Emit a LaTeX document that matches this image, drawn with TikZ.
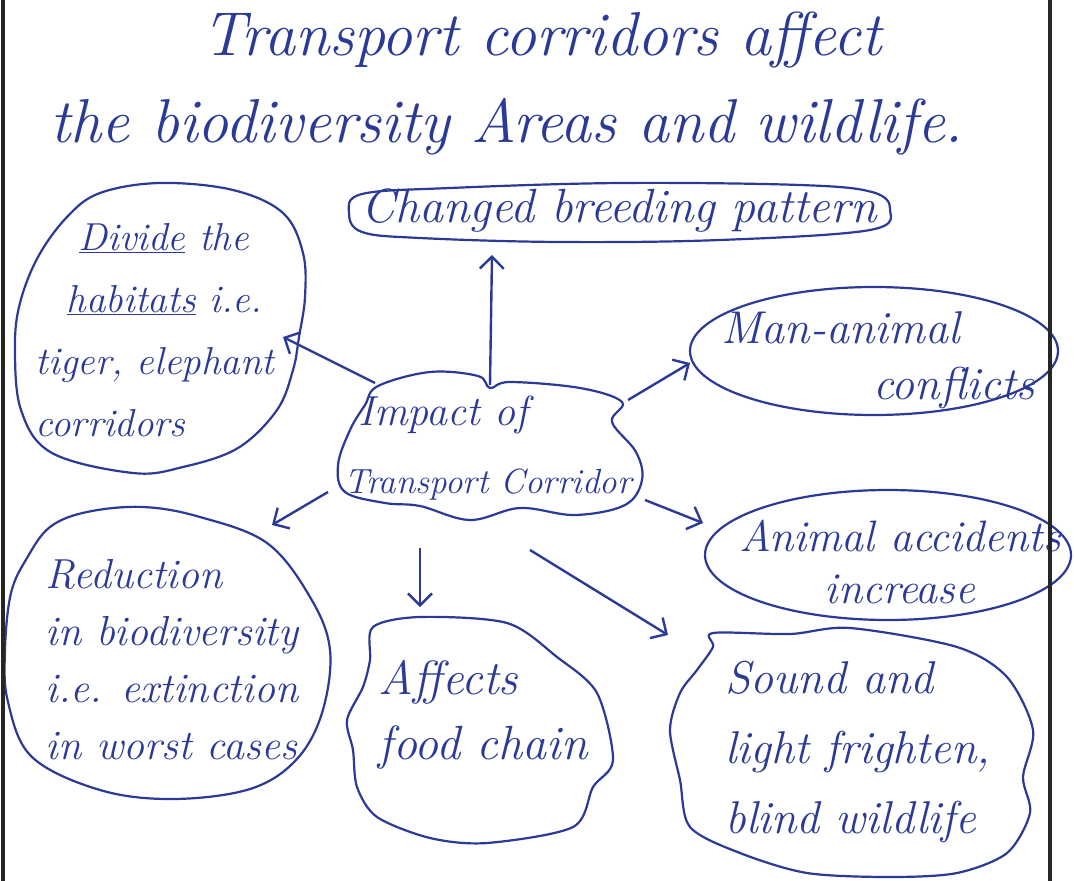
\documentclass[tikz,border=0pt]{standalone}
\usetikzlibrary{shapes.geometric,arrows.meta,calc}
\definecolor{ink}{RGB}{42,58,150}
\begin{document}
\begin{tikzpicture}[x=1pt,y=-1pt,
  every node/.style={text=ink, font=\fontsize{44}{57}\selectfont\itshape},
  heading/.style={font=\fontsize{62}{70}\selectfont\itshape},
  spot/.style={ellipse, inner sep=0pt, align=center},
  outline/.style={draw=ink, line width=2.2pt},
  link/.style={draw=ink, line width=2.4pt, -{Straight Barb[length=12pt,width=24pt]}},
  frame/.style={draw=black!85, line width=4pt}]
\fill[white] (0,0) rectangle (1074,881);
\useasboundingbox (0,0) rectangle (1074,881);

% heading
\node[heading] (t1) at (542,40) {Transport corridors affect};
\node[heading] (t2) at (507,127) {the biodiversity Areas and wildlife.};

% centre
\node[spot, align=left, font=\fontsize{35}{68}\selectfont\itshape] (impact) at (488,448)
  {\hspace*{0.4em}{\fontsize{42}{68}\selectfont Impact of}\\ Transport Corridor};
\draw[outline] plot[smooth cycle, tension=0.6] coordinates {
  (378,386) (430,372) (478,376) (490,388) (510,382) (580,388) (622,402) (612,422)
  (636,452) (642,480) (625,505) (575,515) (520,508) (470,520) (420,506) (385,503)
  (345,492) (338,465) (350,430) (365,405)};

% effects
\node[spot, font=\fontsize{48}{57}\selectfont\itshape] (breed) at (619,210) {Changed breeding pattern};
\draw[outline] plot[smooth cycle, tension=0.6] coordinates {
  (362,194) (450,188) (620,183) (800,185) (872,192) (890,209) (870,230) (720,240)
  (560,242) (420,238) (362,232) (349,213)};

\node[spot, align=left, font=\fontsize{39}{62}\selectfont\itshape] (divide) at (155,330)
  {\hspace*{1.1em}\underline{Divide} the\\ \hspace*{0.8em}\underline{habitats} i.e.\\ tiger, elephant\\ corridors};
\draw[outline] plot[smooth cycle, tension=0.6] coordinates {
  (100,193) (160,183) (233,190) (283,213) (303,253) (305,297) (299,337) (293,370)
  (277,410) (238,448) (183,467) (133,473) (52,453) (21,410) (15,347) (20,303)
  (38,257) (67,217)};

\node[spot, align=left, font=\fontsize{46}{56}\selectfont\itshape] (conflict) at (878,360)
  {Man-animal\\ \hspace*{3.3em}conflicts};
\draw[outline] (874,351) ellipse [x radius=184, y radius=64];

\node[spot, font=\fontsize{44}{52}\selectfont\itshape] (accid) at (900,562) {Animal accidents\\ increase};
\draw[outline] (888,555) ellipse [x radius=183, y radius=65];

\node[spot, align=left, font=\fontsize{42}{57}\selectfont\itshape] (reduce) at (172,660)
  {Reduction\\ in biodiversity\\ i.e. extinction\\ in worst cases};
\draw[outline] plot[smooth cycle, tension=0.6] coordinates {
  (50,527) (87,512) (143,507) (200,517) (267,543) (310,597) (330,650) (322,713)
  (296,760) (250,789) (173,799) (100,790) (32,757) (8,702) (5,650) (11,593) (27,558)};

\node[spot, align=left, font=\fontsize{48}{65}\selectfont\itshape] (food) at (483,715) {Affects\\ food chain};
\draw[outline] plot[smooth cycle, tension=0.5] coordinates {
  (373,627) (420,617) (507,623) (557,657) (597,693) (613,760) (593,787) (573,827)
  (487,843) (430,838) (377,817) (357,787) (353,750) (347,720) (363,687) (370,660)};

\node[spot, align=left, font=\fontsize{46}{70}\selectfont\itshape] (sound) at (858,752)
  {Sound and\\ light frighten,\\ blind wildlife};
\draw[outline] plot[smooth cycle, tension=0.5] coordinates {
  (713,633) (790,634) (850,628) (957,647) (1007,677) (1033,730) (1023,777) (1030,813)
  (1007,853) (957,873) (890,877) (807,873) (740,853) (690,827) (680,780) (670,730)
  (680,693) (697,670) (713,647)};

% arrows from the centre
\draw[link] ($(impact)+(2,-63)$) -- ($(breed)+(-127,45)$);
\draw[link] ($(impact)+(-113,-65)$) -- ($(divide)+(128,7)$);
\draw[link] ($(impact)+(140,-48)$) -- ($(conflict)+(-188,3)$);
\draw[link] ($(impact)+(157,52)$) -- ($(accid)+(-197,-39)$);
\draw[link] ($(impact)+(-160,44)$) -- ($(reduce)+(100,-135)$);
\draw[link] ($(impact)+(-68,100)$) -- ($(food)+(-63,-108)$);
\draw[link] ($(impact)+(42,102)$) -- ($(sound)+(-190,-117)$);

% page edges
\draw[frame] (3,0) -- (3,881);
\draw[frame] (1050,0) -- (1050,881);
\end{tikzpicture}
\end{document}
